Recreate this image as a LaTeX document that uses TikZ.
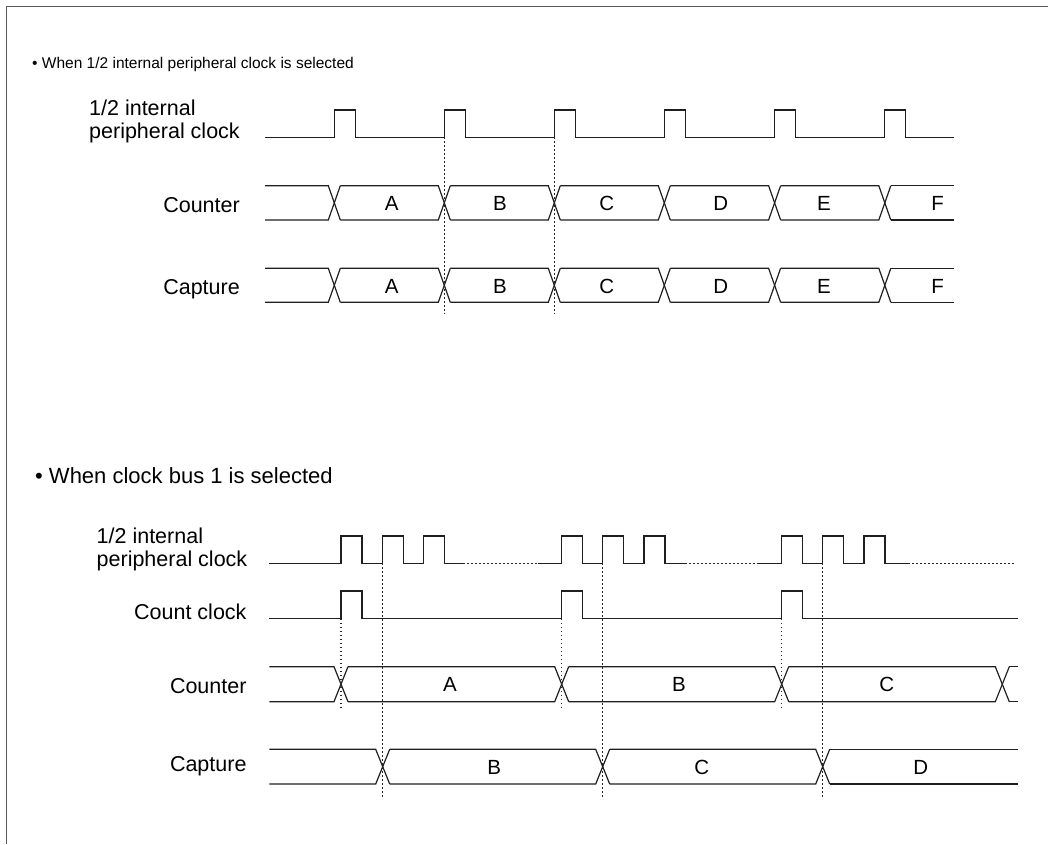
\documentclass[tikz,border=0pt]{standalone}
\usepackage{fontspec}
\setmainfont{Liberation Sans}
\tikzset{
  sig/.style={line width=1.2pt, draw=black!88, line join=miter},
  guide/.style={line width=1.3pt, draw=black!85, dash pattern=on 1.6pt off 2.4pt},
  framec/.style={line width=1.4pt, draw=black!65},
  lbl/.style={inner sep=0pt, font=\fontsize{21.5}{24}\selectfont},
  ltr/.style={inner sep=0pt, font=\fontsize{20.5}{24}\selectfont},
  bul/.style={inner sep=0pt, anchor=base west},
}
% bus: #1 yt, #2 yb, #3 half width, #4 start x, #5 list of crossings
\newcommand\busdraw[5]{%
  \foreach \c [remember=\c as \p (initially {#4-#3})] in {#5}{%
    \draw[sig] ({\p+#3},#1) -- ({\c-#3},#1) -- ({\c+#3},#2);
    \draw[sig] ({\p+#3},#2) -- ({\c-#3},#2) -- ({\c+#3},#1);
  }%
}
\begin{document}
\begin{tikzpicture}[x=1pt,y=-1pt]
\useasboundingbox (0,0) rectangle (1048,844);
% frame
\coordinate (fb) at (6.5,844);
\coordinate (fc) at (6.5,6.5);
\coordinate (fr) at (1048,6.5);
\draw[framec] (fb) -- (fc) -- (fr);

% ===== top section =====
\node[bul, font=\fontsize{15.5}{19}\selectfont] (t1) at (32,68.5) {\textbullet\ When 1/2 internal peripheral clock is selected};

\node[lbl, anchor=base west] (tl1) at (89,115) {1/2 internal};
\node[lbl, anchor=base west] (tl2) at (89,138.3) {peripheral clock};
\node[lbl, anchor=base east] (tl3) at (240,212.7) {Counter};
\node[lbl, anchor=base east] (tl4) at (240,294) {Capture};

% clock
\draw[sig] (265,137.3) foreach \x in {334.3,444.3,554.3,664.3,774.6,884.8} { -- (\x,137.3) -- (\x,110) -- (\x+21,110) -- (\x+21,137.3) } -- (954,137.3);

% counter bus
\busdraw{185.7}{220}{6}{265}{334.3,444.3,554.3,664.3,774.6,884.8}
\draw[sig] (890.8,185.7) -- (954,185.7) (890.8,220) -- (954,220);
% capture bus
\busdraw{268.3}{302.3}{6}{265}{334.3,444.3,554.3,664.3,774.6,884.8}
\draw[sig] (890.8,268.3) -- (954,268.3) (890.8,302.3) -- (954,302.3);

\foreach \t/\x in {A/391.7,B/500,C/606.7,D/720.7,E/824,F/937.7}{
  \node[ltr] (tc\t) at (\x,203.5) {\t};
  \node[ltr] (tp\t) at (\x,286) {\t};
}

% guides
\coordinate (tg1a) at (444.3,137.3); \coordinate (tg1b) at (444.3,314);
\coordinate (tg2a) at (554.3,137.3); \coordinate (tg2b) at (554.3,314);
\draw[guide] (tg1a) -- (tg1b);
\draw[guide] (tg2a) -- (tg2b);

% ===== bottom section =====
\node[bul, font=\fontsize{22}{26}\selectfont] (b1) at (35,483.3) {\textbullet\ When clock bus 1 is selected};

\node[lbl, anchor=base west] (bl1) at (96.5,543) {1/2 internal};
\node[lbl, anchor=base west] (bl2) at (96.5,566.7) {peripheral clock};
\node[lbl, anchor=base east] (bl3) at (246.7,619.3) {Count clock};
\node[lbl, anchor=base east] (bl4) at (246.7,693.3) {Counter};
\node[lbl, anchor=base east] (bl5) at (246.7,771) {Capture};

% 1/2 internal peripheral clock (bursts)
\draw[sig] (269.3,563.3) foreach \x in {341,382.2,423.4} { -- (\x,563.3) -- (\x,536) -- (\x+21,536) -- (\x+21,563.3) } -- (463.3,563.3);
\draw[guide] (463.3,563.3) -- (538.3,563.3);
\draw[sig] (538.3,563.3) foreach \x in {561.7,602.7,644} { -- (\x,563.3) -- (\x,536) -- (\x+21,536) -- (\x+21,563.3) } -- (685,563.3);
\draw[guide] (685,563.3) -- (759.3,563.3);
\draw[sig] (759.3,563.3) foreach \x in {781.7,822.7,864} { -- (\x,563.3) -- (\x,536) -- (\x+21,536) -- (\x+21,563.3) } -- (908.3,563.3);
\draw[guide] (908.3,563.3) -- (1016,563.3);

% count clock
\draw[sig] (269.3,618.7) foreach \x in {341,561.7,781.7} { -- (\x,618.7) -- (\x,591) -- (\x+21,591) -- (\x+21,618.7) } -- (1017.7,618.7);

% counter bus
\busdraw{666.7}{701.7}{7}{269.3}{341,561.7,781.7,1002.3}
\draw[sig] (1009.3,666.7) -- (1017.7,666.7) (1009.3,701.7) -- (1017.7,701.7);
\node[ltr] (bcA) at (450,684.5) {A};
\node[ltr] (bcB) at (679,684.5) {B};
\node[ltr] (bcC) at (886.7,684.5) {C};

% capture bus
\busdraw{749.3}{784}{7}{269.3}{382.7,602.7,822.7}
\draw[sig] (829.7,749.3) -- (1017.7,749.3) (829.7,784) -- (1017.7,784);
\node[ltr] (bpB) at (494.3,767) {B};
\node[ltr] (bpC) at (701.7,767) {C};
\node[ltr] (bpD) at (920.7,767) {D};

% guides
\foreach \x in {341,561.7,781.7}{
  \draw[guide] (\x,618.7) -- (\x,710);
}
\foreach \x in {382.7,602.7,822.7}{
  \draw[guide] (\x,563.3) -- (\x,798);
}
\end{tikzpicture}
\end{document}
